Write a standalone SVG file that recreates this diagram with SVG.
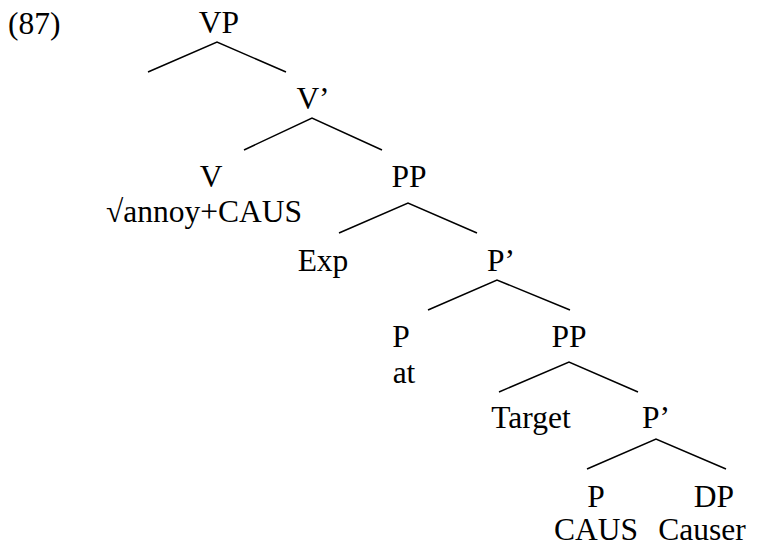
<svg xmlns="http://www.w3.org/2000/svg" width="771" height="548" viewBox="0 0 771 548">
<style>
text { font-family: "Liberation Serif", "Times New Roman", serif; font-size: 31.5px; fill: #000; text-anchor: middle; }
.edge { stroke: #000; stroke-width: 1.5; fill: none; }
</style>
<rect width="771" height="548" fill="#fff"/>
<text x="8" y="34" style="text-anchor:start">(87)</text>
<g id="connectors">
<polyline class="edge" points="148,72 217,42 286,72"/>
<polyline class="edge" points="244,150 312,118 382,150"/>
<polyline class="edge" points="339,233 408,203 477,233"/>
<polyline class="edge" points="428,310 497,280 570,310"/>
<polyline class="edge" points="499,392 569,362 638,392"/>
<polyline class="edge" points="587,469 656,439 726,469"/>
</g>
<g id="n-VP"><text x="219" y="33">VP</text></g>
<g id="n-V1"><text x="313" y="109">V’</text></g>
<g id="n-V"><text x="211" y="187">V</text><text x="204" y="222">√annoy+CAUS</text></g>
<g id="n-PP1"><text x="409" y="187">PP</text></g>
<g id="n-Exp"><text x="323" y="271">Exp</text></g>
<g id="n-P1"><text x="501" y="271">P’</text></g>
<g id="n-P-at"><text x="401" y="347">P</text><text x="404" y="383">at</text></g>
<g id="n-PP2"><text x="569" y="347">PP</text></g>
<g id="n-Target"><text x="531" y="428">Target</text></g>
<g id="n-P2"><text x="656" y="428">P’</text></g>
<g id="n-P-caus"><text x="596" y="507">P</text><text x="596" y="540">CAUS</text></g>
<g id="n-DP"><text x="714" y="507">DP</text><text x="702" y="540">Causer</text></g>
</svg>
